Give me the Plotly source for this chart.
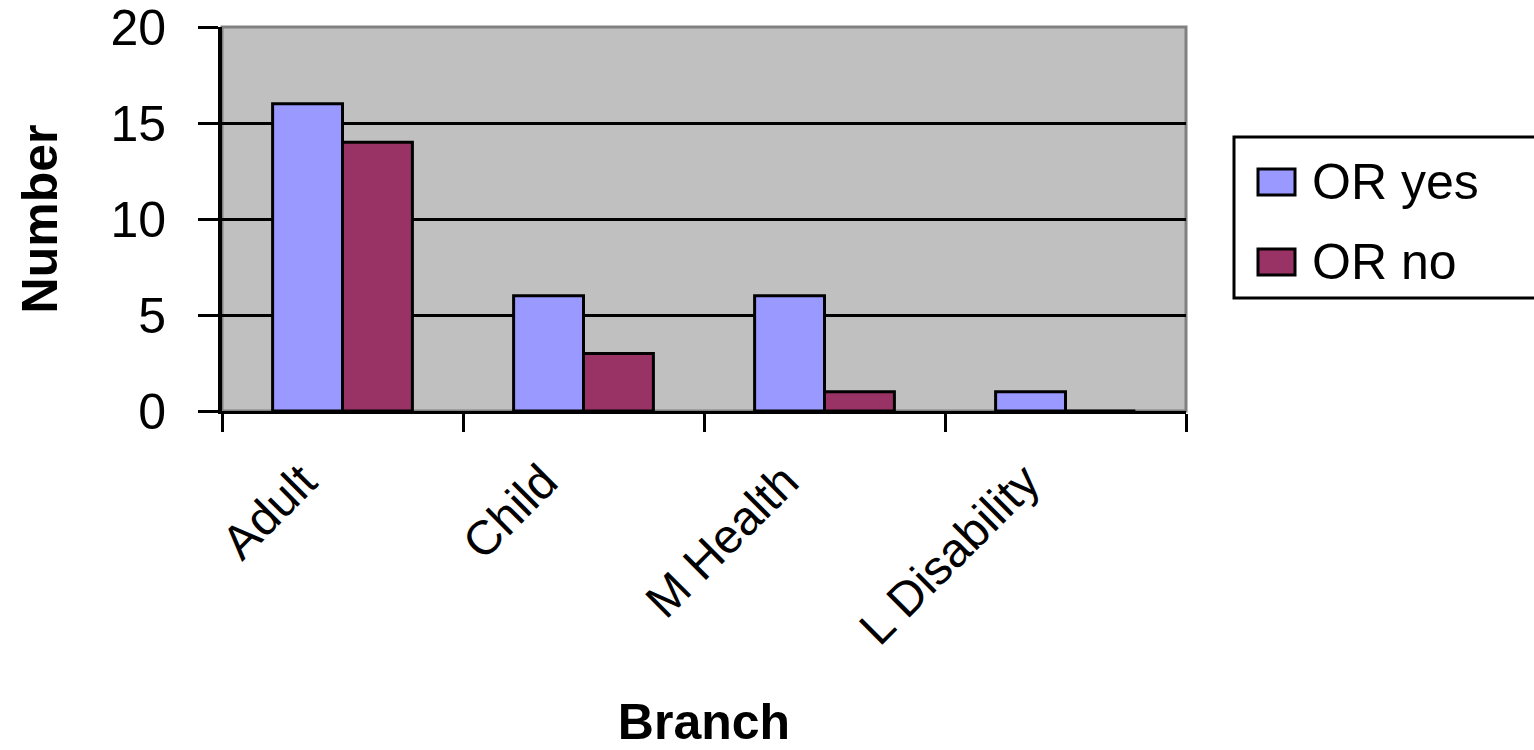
import plotly.graph_objects as go

# Data
branches = ["Adult", "Child", "M Health", "L Disability"]
series_names = ["OR yes", "OR no"]
or_yes = [16, 6, 6, 1]
or_no = [14, 3, 1, 0]
y_ticks = [0, 5, 10, 15, 20]

colors = ["#9999FF", "#993366"]
FONT = "Liberation Sans, Arial, sans-serif"

W, H = 1534, 750
L, R, T, B = 222, 1186, 27, 411  # plot area in pixels


def px_x(px):
    return (px - L) / (R - L)


def px_y(py):
    return (B - py) / (B - T)


fig = go.Figure()
for name, vals, col in zip(series_names, [or_yes, or_no], colors):
    fig.add_trace(go.Bar(
        x=branches, y=vals, name=name,
        marker=dict(color=col, line=dict(color="black", width=3)),
        showlegend=False,
    ))

fig.update_layout(
    width=W, height=H,
    margin=dict(l=L, r=W - R, t=T, b=H - B, pad=0),
    paper_bgcolor="white",
    plot_bgcolor="#C0C0C0",
    barmode="group",
    bargap=0.42,
    bargroupgap=0,
    font=dict(family=FONT, color="black"),
)

fig.update_yaxes(
    automargin=False,
    range=[0, 20],
    tickvals=y_ticks,
    ticks="outside", ticklen=20, tickwidth=3, tickcolor="black",
    showline=True, linecolor="black", linewidth=4,
    showgrid=True, gridcolor="black", gridwidth=3,
    zeroline=False,
    tickfont=dict(size=50, family=FONT),
    ticklabelstandoff=22,
    ticklabeloverflow="allow",
    title=dict(text="<b>Number</b>", font=dict(size=50, family=FONT), standoff=38),
)

fig.update_xaxes(
    automargin=False,
    tickangle=-45,
    tickson="boundaries",
    ticks="outside", ticklen=18, tickwidth=3, tickcolor="black",
    showline=True, linecolor="black", linewidth=3,
    showgrid=False, zeroline=False,
    tickfont=dict(size=48, family=FONT),
    ticklabelshift=-40,
    ticklabelstandoff=20,
    ticklabeloverflow="allow",
    title=dict(text="<b>Branch</b>", font=dict(size=50, family=FONT), standoff=62),
)

# Gray frame on the top and right of the plot area
fig.add_shape(type="rect", xref="paper", yref="paper", x0=0, x1=1, y0=0, y1=1,
              line=dict(color="#808080", width=3), fillcolor="rgba(0,0,0,0)", layer="below")

# Legend box
fig.add_shape(type="rect", xref="paper", yref="paper",
              x0=px_x(1234), x1=px_x(1540), y0=px_y(298), y1=px_y(137),
              line=dict(color="black", width=3), fillcolor="white")
for i, (name, col) in enumerate(zip(series_names, colors)):
    cy = 182 + i * 80
    fig.add_shape(type="rect", xref="paper", yref="paper",
                  x0=px_x(1258), x1=px_x(1295), y0=px_y(cy + 13), y1=px_y(cy - 13),
                  line=dict(color="black", width=3), fillcolor=col)
    fig.add_annotation(xref="paper", yref="paper", x=px_x(1310), y=px_y(cy),
                       text=name, showarrow=False, xanchor="left", yanchor="middle",
                       font=dict(size=50, family=FONT, color="black"))

fig.write_html("out.html")
